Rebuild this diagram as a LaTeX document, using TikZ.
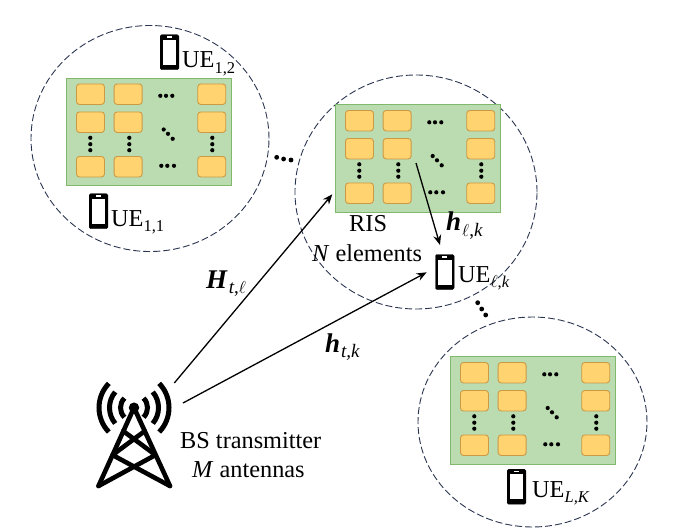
\documentclass[tikz,border=0pt]{standalone}
\usepackage{fontspec}
\setmainfont{Liberation Serif}
\usetikzlibrary{arrows.meta,shapes.geometric,calc}
\definecolor{panelfill}{HTML}{BBDBB0}
\definecolor{paneledge}{HTML}{80B96C}
\definecolor{cellfill}{HTML}{FFD36F}
\definecolor{celledge}{HTML}{CC9A45}
\definecolor{ringcol}{HTML}{2A3550}
\tikzset{
  ring/.style={draw=ringcol,line width=0.9pt,dash pattern=on 7pt off 3pt},
  panelbox/.style={draw=paneledge,fill=panelfill,line width=1pt,minimum width=165pt,minimum height=107.5pt,inner sep=0pt,anchor=north west},
  cellbox/.style={draw=celledge,fill=cellfill,line width=0.9pt,rounded corners=3pt,minimum width=28pt,minimum height=20.5pt,inner sep=0pt,anchor=north west},
  dotmark/.style={circle,fill=black,inner sep=0pt,minimum size=4.2pt},
  phonebody/.style={fill=black,draw=black,rounded corners=1.4pt,line width=0.4pt,minimum width=18.6pt,minimum height=35pt,inner sep=0pt,anchor=north west},
  phonescreen/.style={fill=white,inner sep=0pt,minimum width=13.4pt,minimum height=25pt},
  txt/.style={anchor=base west,inner sep=0pt,text=black,font=\fontsize{24.3}{28}\selectfont},
  link/.style={line width=1.3pt,-{Stealth[length=10pt,width=8pt]}},
  mast/.style={line width=4.6pt,line cap=round,line join=round},
  wave/.style={line width=5pt},
}
\newcommand{\sbs}[1]{\raisebox{-5.5pt}{\fontsize{16.5}{17}\selectfont #1}}
\newcommand{\sbm}[1]{\hspace{1pt}\raisebox{-5.5pt}{\fontsize{19}{20}\selectfont #1}}
\newcommand{\bld}[1]{{\fontsize{27}{28}\selectfont\textbf{\textit{#1}}}}
\newcommand{\itl}{$\ell$}
\newcommand{\ristile}[3]{%
  \node[panelbox] (#3) at (#1,#2) {};
  \foreach \cx/\ci in {10/a,47.7/b,131.3/c}{
    \foreach \cy/\cj in {6/a,34/b,78.5/c}{
      \node[cellbox] (#3\ci\cj) at ({#1+\cx},{#2+\cy}) {};
    }
  }
  \foreach \dx/\dy [count=\n] in {94.3/18.3,100/18.3,106.3/18.3,95.3/88.3,101.3/88.3,108/88.3,97.7/52,102/56.3,106.7/61.3,
      24.3/60.3,24.3/66.7,24.3/72.7,63.3/60.3,63.3/66.7,63.3/72.7,146.3/60.3,146.3/66.7,146.3/72.7}{
    \node[dotmark] (#3d\n) at ({#1+\dx},{#2+\dy}) {};
  }
}
\newcommand{\handset}[3]{%
  \node[phonebody] (#3) at (#1,#2) {};
  \node[phonescreen] (#3s) at (#3.center) {};
  \node[fill=white,inner sep=0pt,minimum width=5pt,minimum height=1.4pt] (#3k) at ({#1+9.3},{#2+2.5}) {};
}
\begin{document}
\begin{tikzpicture}[x=1pt,y=-1pt]
\useasboundingbox (0,0) rectangle (681,528);
% coverage circles
\node[ring,ellipse,minimum width=238pt,minimum height=226pt,inner sep=0pt] (c1) at (150,138.5) {};
\node[ring,ellipse,minimum width=242pt,minimum height=234pt,inner sep=0pt] (c2) at (416,192) {};
\node[ring,ellipse,minimum width=229pt,minimum height=210pt,inner sep=0pt] (c3) at (532.5,422) {};
% panels
\ristile{66}{77.5}{pa}
\ristile{335}{104}{pb}
\ristile{450}{356}{pc}
% ellipsis between circles
\foreach \px/\py [count=\n] in {276.7/157.3,283.6/159,291/160,477.7/302.7,481.7/309,485.7/315}{
  \node[dotmark,minimum size=4.8pt] (gap\n) at (\px,\py) {};
}
% phones
\handset{160}{34.5}{ph1}
\handset{89}{193.5}{ph2}
\handset{435.3}{254.3}{ph3}
\handset{507}{469}{ph4}
% labels
\node[txt] (ue12) at (182,67.7) {UE\sbs{1,2}};
\node[txt] (ue11) at (111,226) {UE\sbs{1,1}};
\node[txt] (uelk) at (458,282) {UE\sbs{\itl,\textit{k}}};
\node[txt] (ueLK) at (532,497) {UE\sbs{\textit{L,K}}};
\node[txt] (ris) at (349,231.7) {RIS};
\node[txt] (nel) at (312,261.7) {\textit{N} elements};
\node[txt] (bs) at (180,448) {BS transmitter};
\node[txt] (man) at (192,477) {\textit{M} antennas};
\node[txt] (hlk) at (446,230.7) {\bld{h}\sbm{\itl,\textit{k}}};
\node[txt] (Htl) at (206,288) {\bld{H}\sbm{\textit{t},\itl}};
\node[txt] (htk) at (325,352) {\bld{h}\sbm{\textit{t,k}}};
% links
\coordinate (s1) at (174.3,383);
\coordinate (e1) at (332.3,194.3);
\coordinate (s2) at (183,403);
\coordinate (e2) at (426.7,272.3);
\coordinate (s3) at (416,163);
\coordinate (e3) at (440,245);
\draw[link] (s1) -- (e1);
\draw[link] (s2) -- (e2);
\draw[link] (s3) -- (e3);
% base station
\coordinate (top) at (134,407.7);
\coordinate (fl) at (98.5,486);
\coordinate (fr) at (170,486);
\coordinate (l1) at (123.2,431);
\coordinate (r1) at (144.8,431);
\coordinate (l2) at (112.5,455);
\coordinate (r2) at (155.5,455);
\draw[mast] (fl) -- (top) -- (fr);
\draw[mast] (fl) -- (r2) -- (l1);
\draw[mast] (fr) -- (l2) -- (r1);
\node[circle,fill=black,inner sep=0pt,minimum size=10.5pt] (tip) at (top) {};
\draw[wave] (top) ++(136:35) arc (136:224:35);
\draw[wave] (top) ++(-44:35) arc (-44:44:35);
\draw[wave] (top) ++(140:24.5) arc (140:220:24.5);
\draw[wave] (top) ++(-40:24.5) arc (-40:40:24.5);
\draw[wave] (top) ++(135:13.5) arc (135:225:13.5);
\draw[wave] (top) ++(-45:13.5) arc (-45:45:13.5);
\end{tikzpicture}
\end{document}
